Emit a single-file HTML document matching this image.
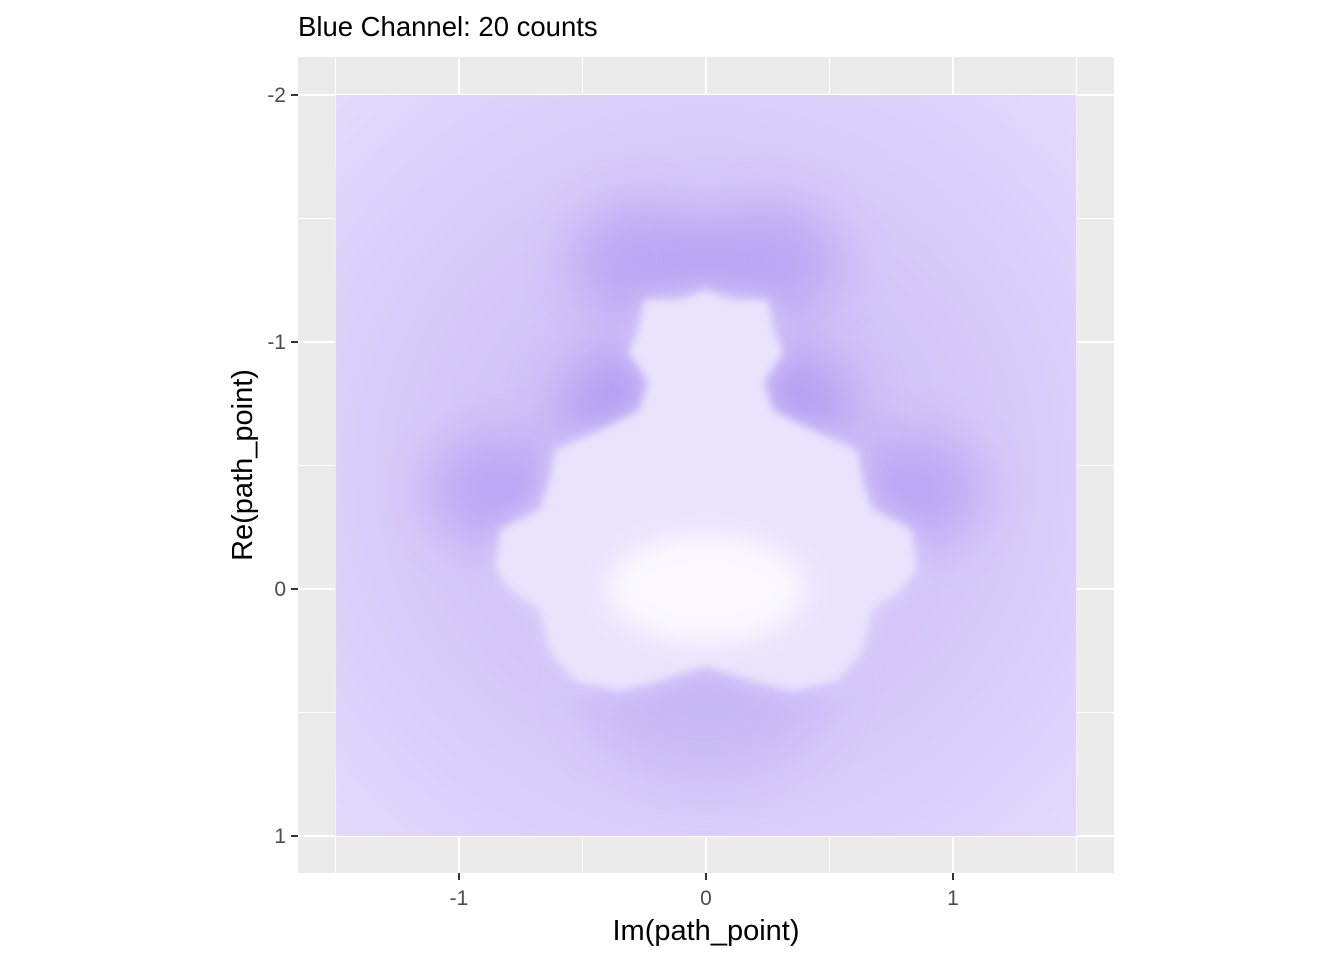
<!DOCTYPE html>
<html><head><meta charset="utf-8"><style>
body{margin:0;background:#fff;font-family:"Liberation Sans",Arial,sans-serif;}
svg text{font-family:"Liberation Sans",Arial,sans-serif;}
</style></head><body>
<svg id="chart" width="1344" height="960" viewBox="0 0 1344 960">
<defs>
<radialGradient id="bg" cx="706" cy="470" r="520" gradientUnits="userSpaceOnUse">
<stop offset="0" stop-color="#c9baf6"/><stop offset="0.45" stop-color="#d2c5f8"/><stop offset="1" stop-color="#e2d9fc"/>
</radialGradient>
<filter id="b20" x="-50%" y="-50%" width="200%" height="200%"><feGaussianBlur stdDeviation="26"/></filter>
<filter id="b4" x="-20%" y="-20%" width="140%" height="140%"><feGaussianBlur stdDeviation="4"/></filter>
<filter id="b12" x="-50%" y="-50%" width="200%" height="200%"><feGaussianBlur stdDeviation="14"/></filter>
<clipPath id="rast"><rect x="335.5" y="95" width="741" height="741"/></clipPath>
</defs>
<rect x="298" y="57" width="816" height="816" fill="#ebebeb"/>
<g id="grid"></g>
<g id="raster" clip-path="url(#rast)"></g>
<g id="axes"></g>
<text x="298" y="36" font-size="27.5" fill="#000">Blue Channel: 20 counts</text>
<text x="706" y="940" font-size="29" text-anchor="middle" fill="#000">Im(path_point)</text>
<text transform="translate(252,465) rotate(-90)" font-size="29" text-anchor="middle" fill="#000">Re(path_point)</text>
</svg>
<script>
const xTicks=[-1,0,1];
const xMinor=[-1.5,-0.5,0.5,1.5];
const yTicks=[-2,-1,0,1];
const yMinor=[-1.5,-0.5,0.5];
// dark density blobs: [im, re, radius, opacity]
const blobIm=[-0.25,0.25,-0.32,0.32,-0.85,0.85,-0.1,0.1,0];
const blobRe=[-1.33,-1.33,-0.75,-0.75,-0.4,-0.4,-0.4,-0.4,0.4];
const blobR=[0.3,0.3,0.28,0.28,0.28,0.28,0.1,0.1,0.5];
const blobOp=[0.4,0.4,0.5,0.5,0.4,0.4,0.35,0.35,0.18];
// white set outline (left half, im<=0), [im, re]
const shapeIm=[0,-0.1,-0.25,-0.27,-0.31,-0.23,-0.27,-0.43,-0.61,-0.63,-0.67,-0.83,-0.85,-0.79,-0.67,-0.63,-0.53,-0.35,-0.19,0];
const shapeRe=[-1.21,-1.17,-1.17,-1.05,-0.96,-0.84,-0.72,-0.64,-0.56,-0.44,-0.32,-0.24,-0.08,0,0.08,0.25,0.37,0.41,0.37,0.31];
const NS='http://www.w3.org/2000/svg';
const X=v=>706+247*v, Y=v=>589+247*v;
function mk(tag,attrs,parent){const e=document.createElementNS(NS,tag);for(const k in attrs)e.setAttribute(k,attrs[k]);parent.appendChild(e);return e;}
const grid=document.getElementById('grid'),axes=document.getElementById('axes'),r=document.getElementById('raster');
xMinor.forEach(v=>{const l=mk('line',{x1:X(v),x2:X(v),y1:57,y2:873,stroke:'#fff','stroke-width':1},grid);

});
yMinor.forEach(v=>{const l=mk('line',{y1:Y(v),y2:Y(v),x1:298,x2:1114,stroke:'#fff','stroke-width':1},grid);

});
xTicks.forEach(v=>{const l=mk('line',{x1:X(v),x2:X(v),y1:57,y2:873,stroke:'#fff','stroke-width':2},grid);


const t=mk('line',{x1:X(v),x2:X(v),y1:873,y2:880,stroke:'#333','stroke-width':2},axes);


const tx=mk('text',{x:X(v),y:905,'font-size':21,'text-anchor':'middle',fill:'#4d4d4d'},axes);tx.textContent=String(v);

});
yTicks.forEach(v=>{const l=mk('line',{y1:Y(v),y2:Y(v),x1:298,x2:1114,stroke:'#fff','stroke-width':2},grid);


const t=mk('line',{y1:Y(v),y2:Y(v),x1:291,x2:298,stroke:'#333','stroke-width':2},axes);


const tx=mk('text',{x:286,y:Y(v)+7,'font-size':21,'text-anchor':'end',fill:'#4d4d4d'},axes);tx.textContent=String(v);

});
const bgr=mk('rect',{x:335.5,y:95,width:741,height:741,fill:'url(#bg)'},r);


blobIm.forEach((im,i)=>{const c=mk('ellipse',{cx:X(im),cy:Y(blobRe[i]),rx:247*blobR[i],ry:247*blobR[i]*0.8,fill:'#9a80ee',opacity:blobOp[i],filter:'url(#b20)'},r);

});
const pts=[];shapeIm.forEach((im,i)=>pts.push([im,shapeRe[i]]));
for(let i=shapeIm.length-2;i>0;i--)pts.push([-shapeIm[i],shapeRe[i]]);
const pstr=pts.map(p=>X(p[0])+','+Y(p[1])).join(' ');
const halo=mk('polygon',{points:pstr,fill:'#e8e1fd',opacity:0.7,filter:'url(#b12)'},r);


const sh=mk('polygon',{points:pstr,fill:'#e9e3fd',filter:'url(#b4)'},r);


const core=mk('ellipse',{cx:X(0),cy:Y(0),rx:247*0.4,ry:247*0.22,fill:'#fbf9ff',filter:'url(#b12)'},r);


</script>
</body></html>
